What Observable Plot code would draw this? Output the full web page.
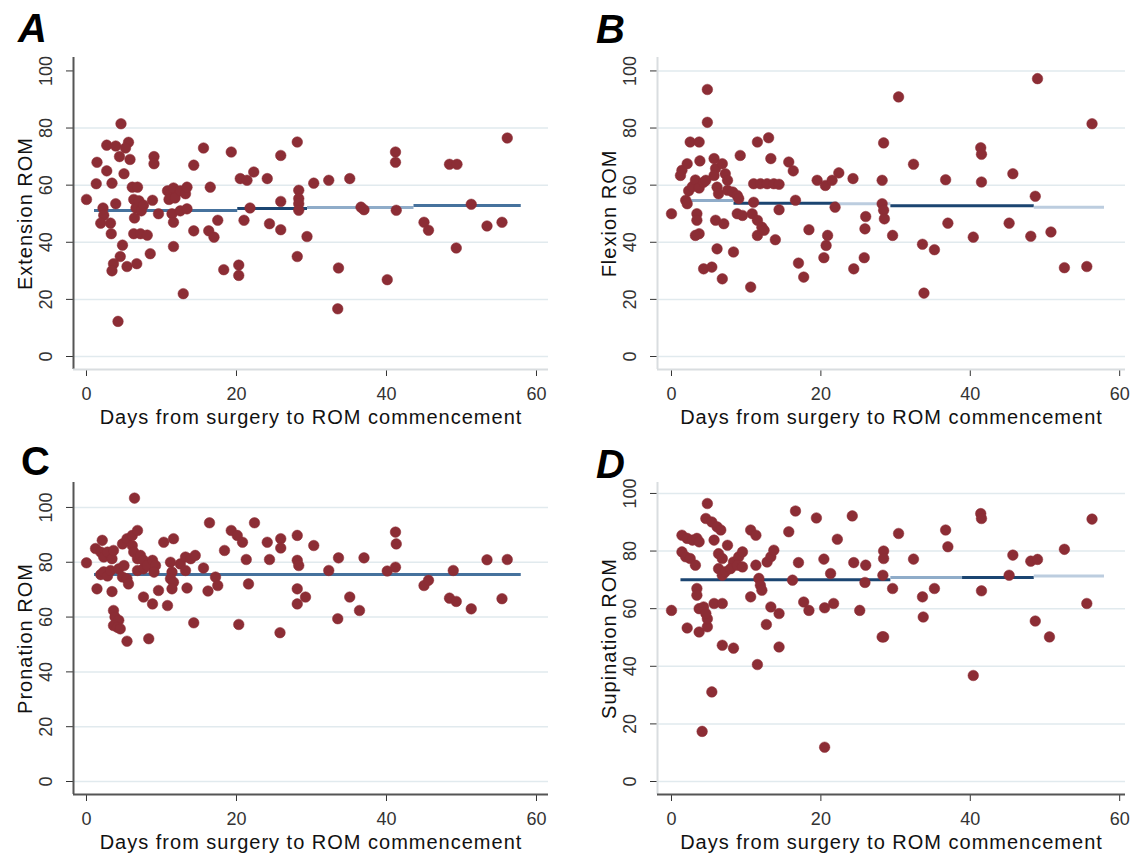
<!DOCTYPE html>
<html><head><meta charset="utf-8">
<script src="https://cdn.jsdelivr.net/npm/d3@7"></script>
<script src="https://cdn.jsdelivr.net/npm/@observablehq/plot@0.6"></script>
<style>
body{margin:0;background:#fff;width:1131px;height:854px;position:relative;overflow:hidden;font-family:"Liberation Sans",Arial,sans-serif;}
.panel{position:absolute;}
.letter{position:absolute;font-weight:bold;font-size:40px;line-height:1;color:#000;font-family:"Liberation Sans",Arial,sans-serif;}
g[aria-label$="axis label"] text{font-size:20px;letter-spacing:1px;fill:#111;}
</style></head><body>
<script>
// ---- data ----
const xLabel = "Days from surgery to ROM commencement";
const xTicks = [0, 20, 40, 60];
const yTicks = [0, 20, 40, 60, 80, 100];
const panelLetters = ["A", "B", "C", "D"];
const yLabels = ["Extension ROM", "Flexion ROM", "Pronation ROM", "Supination ROM"];

// [days, ROM]
const extensionPoints = [[0,55],[1.4,68],[1.3,60.5],[2.7,65],[2.7,74],[2.2,52],[2.3,49.5],[1.9,46.7],[3.2,46.7],[3.3,43],
[3.4,60.7],[3.9,73.7],[3.9,53.5],[4.6,81.5],[4.2,12.3],[4.4,70],[5,64],[5.6,75],[5.2,73],[5.8,69],
[4.8,39],[4.5,35],[3.6,32.5],[3.4,30],[5.4,31.5],[6.7,32.5],[6.1,59.3],[6.8,59.3],[6.3,55],[6.6,52],
[7.0,54.5],[7.3,51],[6.4,48.5],[7.6,53],[6.3,43],[7.2,43],[8.1,42.5],[8.5,36],[9,70],[9,67.5],
[8.8,54.7],[9.6,50],[10.8,58],[11.2,57],[11.6,59],[11,55],[11.8,55.5],[11.4,50],[11.6,47],[11.6,38.5],
[12.5,58],[13.2,57],[13.4,59.3],[12.9,22],[12.5,51],[13.4,51.7],[14.3,67],[14.3,44],[15.6,73],[16.5,59.3],
[16.3,44],[17,41.8],[17.5,47.7],[18.3,30.4],[19.3,71.6],[20.3,32],[20.3,28.4],[20.5,62.3],[21.4,61.7],[21,47.7],
[21.8,52],[22.3,64.6],[24.1,62.3],[24.4,46.5],[25.9,70.4],[25.9,54.3],[25.9,44.4],[28.1,75.1],[28.1,35],[28.3,58.2],
[28.3,55.3],[28.3,53.5],[28.3,51.2],[29.4,42],[30.3,60.7],[32.3,61.7],[33.6,31],[33.5,16.7],[35.1,62.3],[36.6,52.3],
[37,51.4],[40.1,26.9],[41.2,71.6],[41.2,68],[41.3,51.2],[45,47],[45.6,44.2],[48.4,67.3],[49.4,67.3],[49.3,38],
[51.3,53.3],[53.4,45.7],[55.4,47],[56.1,76.5]];

const flexionPoints = [[0,50],[1.4,65.2],[1.2,63.4],[2.1,67.5],[1.9,54.7],[2.1,53.5],[2.5,75.1],[3.7,75.1],[3.8,68.5],[2.3,58],
[2.8,59.5],[3.2,61.8],[3.7,59],[4.3,61],[3.4,50],[3.4,47.7],[3.7,43],[3.2,42.4],[4.6,61.7],[4.8,93.5],
[4.8,82],[4.3,30.7],[5.4,31.3],[5.7,69.3],[5.9,65.8],[5.7,63.4],[6.1,59.3],[6.3,57],[5.9,47.7],[7,46.5],
[6.1,37.7],[6.8,27.2],[6.8,67.5],[7.2,64],[7.5,61.7],[7.5,58.2],[8.2,57.6],[8.8,56.4],[9,55.3],[9.2,70.4],
[8.8,50],[9.5,49.4],[8.3,36.6],[10.6,24.3],[11,54],[10.8,50],[11.5,47.7],[12.1,45.3],[11.5,42.4],[12.4,44.2],
[11,60.5],[11.9,60.5],[12.8,60.5],[13.7,60.5],[14.4,60.3],[11.5,75.1],[13,76.6],[13.3,69.3],[13.9,40.9],[14.4,51.4],
[15.7,68.1],[16.3,65],[16.6,54.7],[17,32.7],[17.7,27.8],[18.4,44.4],[19.5,61.7],[20.6,59.9],[21.5,61.7],[22.4,64.3],
[21.9,52.3],[20.9,42.4],[20.7,38.9],[20.4,34.6],[24.3,62.3],[24.4,30.7],[30.4,90.9],[28.4,74.8],[28.2,61.7],[28.2,53.5],
[28.4,51.2],[28.5,48.2],[26,49],[25.9,44.7],[25.8,34.6],[29.6,42.4],[32.4,67.3],[33.6,39.3],[35.2,37.4],[33.8,22.2],
[36.7,61.9],[37,46.7],[40.4,41.8],[41.4,73.1],[41.5,70.8],[41.5,61.1],[45.2,46.7],[45.7,64],[48.1,42.1],[48.7,56.1],
[49,97.3],[50.8,43.6],[52.6,31.1],[55.6,31.5],[56.3,81.5]];

const pronationPoints = [[0,79.8],[1.4,70.3],[1.2,85],[1.9,83.7],[2.3,81.9],[2.1,88],[2.8,83.7],[3.4,81.3],[3.6,84.3],[1.9,75.5],
[2.3,76.5],[2.8,75],[3.2,77],[3.4,69.3],[3.6,62.4],[3.8,60],[4.3,58.8],[3.6,56.9],[4.1,56.3],[4.5,55.7],
[5.4,51.2],[4.3,77.6],[5,78.8],[4.8,74.6],[5.4,74],[5.6,72.1],[4.8,86.7],[5.4,88.6],[6.1,89.8],[6.8,91.6],
[6.1,86.1],[6.4,103.4],[6.3,83.7],[6.8,81.3],[7.2,82.5],[7.6,80.7],[6.8,77],[7.6,77.6],[8.1,78.8],[8.8,80.7],
[9.2,78.8],[9,76.4],[7.6,67.3],[8.8,64.8],[8.3,52.1],[9.6,69.7],[10.8,64.2],[10.3,87.3],[11.6,88.6],[11.2,80],
[11.4,76.4],[11.2,74],[11.6,72.7],[11.4,70.3],[12.5,79.4],[13.2,77],[13.2,81.9],[13.9,81.3],[14.5,82.5],[13.4,70.6],
[14.3,57.9],[15.6,77.9],[16.2,69.5],[16.4,94.4],[17.2,74.6],[17.5,71.5],[18.4,84.3],[19.3,91.6],[20.1,89.8],[20.8,87.3],
[21.3,81],[21.6,72.1],[20.3,57.3],[22.4,94.4],[24.1,87.3],[24.4,81],[25.9,88.6],[25.9,85.2],[25.8,54.3],[28.1,89.8],
[28.1,80.7],[28.1,70.3],[28.1,64.8],[28.3,78.8],[29.2,67.3],[30.3,86.1],[32.3,77],[33.6,81.6],[33.5,59.4],[35.1,67.3],
[36.4,62.4],[37,81.6],[40.1,76.8],[41.2,91],[41.3,86.7],[41.2,78.2],[45,71.5],[45.6,73.4],[48.4,66.9],[49.3,65.7],
[48.9,77],[51.3,63],[53.4,80.9],[55.4,66.7],[56.1,81]];

const supinationPoints = [[0,59.4],[1.4,85.5],[2.1,84.4],[2.8,83.8],[3.4,84.4],[1.4,79.7],[1.9,78],[2.5,77.4],[3.2,75.1],[3.7,83.2],
[2.1,53.3],[3.4,67],[3.4,64.7],[3.7,60],[4.3,60.6],[3.7,51.9],[4.8,53.7],[4.8,56.5],[4.6,58.3],[4.1,17.4],
[4.8,96.5],[4.6,91.3],[5.4,90.1],[6.1,88.4],[6.6,87.3],[5.7,83.8],[5.4,31.1],[5.7,61.8],[6.8,61.8],[6.8,47.3],
[6.3,79.1],[6.8,77.4],[7.5,82],[6.3,73.9],[6.8,71.6],[7.2,72.8],[8.3,46.3],[8.3,76.2],[9,78],[9.5,79.7],
[7.9,73.9],[8.8,75.1],[9.5,74.5],[10.6,87.3],[11.3,85.5],[11.3,75.1],[11.5,40.6],[11.7,70.5],[11.9,68.1],[12.1,66.4],
[10.6,64.1],[12.7,54.5],[12.8,76.2],[13.3,78],[13.7,80.3],[13.3,60.6],[14.4,58.3],[14.4,46.7],[15.7,86.7],[16.2,69.9],
[16.6,93.9],[17,76],[17.7,62.3],[18.4,59.4],[19.4,91.5],[20.4,77.2],[21.3,72.2],[20.5,60.3],[21.7,61.8],[20.5,11.9],
[22.2,84.1],[24.2,92.2],[24.4,76],[25.2,59.4],[26,75.1],[25.9,69.1],[30.4,86.1],[28.4,80],[28.4,77.4],[28.3,71.6],
[29.6,67],[28.2,50.2],[28.4,50.2],[32.4,77.2],[33.6,64.1],[33.7,57.1],[35.2,67],[36.7,87.3],[37,81.5],[40.4,36.8],
[41.4,93],[41.5,91.3],[41.5,66.2],[45.2,71.6],[45.7,78.6],[48.1,76.5],[49,77.1],[48.7,55.7],[50.6,50.2],[52.6,80.6],
[55.6,61.8],[56.3,91.1]];

// fitted line pieces: [fromDay, toDay, ROM, tone]
const toneNames = ["dark", "mid", "light", "pale"];
const extensionFit = [[1,20.1,51.1,"mid"],[20.1,29.4,51.8,"dark"],[29.4,43.6,52.2,"light"],[43.6,57.9,52.9,"mid"]];
const flexionFit = [[1.4,8.3,54.6,"light"],[8.3,22.2,53.7,"dark"],[22.2,29.3,53.5,"pale"],[29.3,48.5,52.8,"dark"],[48.5,57.9,52.3,"pale"]];
const pronationFit = [[1,57.9,75.5,"mid"]];
const supinationFit = [[1.2,29.3,70.0,"dark"],[29.3,38.9,70.8,"light"],[38.9,48.5,70.8,"dark"],[48.5,57.9,71.3,"pale"]];

// ---- layout ----
const panels = [
  {letter: panelLetters[0], yLabel: yLabels[0], points: extensionPoints, fit: extensionFit,
   left: 0, top: 0, width: 565, mr: 17, mt: 57, mb: 58, xd: [-1.733, 61.6], yd: [-4.55, 104.7],
   grid: [0,20,40,60,80], yAxisColor: "#555", xAxisColor: "#d9dde0", italic: true, lx: 18, ly: 8},
  {letter: panelLetters[1], yLabel: yLabels[1], points: flexionPoints, fit: flexionFit,
   left: 584, top: 0, width: 547, mr: 6, mt: 57, mb: 58, xd: [-1.874, 60.78], yd: [-4.55, 104.7],
   grid: [0,20,40,60,80,100], yAxisColor: "#d9dde0", xAxisColor: "#d9dde0", italic: true, lx: 596, ly: 9},
  {letter: panelLetters[2], yLabel: yLabels[2], points: pronationPoints, fit: pronationFit,
   left: 0, top: 427, width: 565, mr: 17, mt: 55, mb: 60, xd: [-1.733, 61.6], yd: [-4.74, 109.1],
   grid: [0,20,40,60,80,100], yAxisColor: "#555", xAxisColor: "#555", italic: false, lx: 21, ly: 441},
  {letter: panelLetters[3], yLabel: yLabels[3], points: supinationPoints, fit: supinationFit,
   left: 584, top: 427, width: 547, mr: 6, mt: 55, mb: 60, xd: [-1.874, 60.78], yd: [-4.51, 103.8],
   grid: [0,20,40,60,80,100], yAxisColor: "#d9dde0", xAxisColor: "#555", italic: true, lx: 596, ly: 444}
];

for (const p of panels) {
  const pts = p.points.map(([d, v]) => ({d, v}));
  const segs = p.fit.map(([x1, x2, y, tone]) => ({x1, x2, y, tone}));
  const chart = Plot.plot({
    width: p.width, height: 427,
    marginLeft: 73, marginRight: p.mr, marginTop: p.mt, marginBottom: p.mb,
    style: {fontFamily: '"Liberation Sans", Arial, sans-serif', fontSize: "18px", color: "#333", background: "transparent", overflow: "visible"},
    x: {domain: p.xd, ticks: xTicks, tickSize: 7, tickPadding: 11, tickFormat: d => String(d),
        label: xLabel, labelAnchor: "center", labelArrow: "none", labelOffset: 54},
    y: {domain: p.yd, ticks: yTicks, tickSize: 7, tickPadding: 15, tickRotate: -90, tickFormat: d => String(d),
        label: p.yLabel, labelAnchor: "center", labelArrow: "none", labelOffset: 56},
    color: {domain: toneNames, range: ["#1b4571", "#46729d", "#8facc9", "#bccddf"]},
    marks: [
      Plot.ruleY(p.grid, {stroke: "#e1eaee", strokeWidth: 1.5}),
      Plot.ruleX([p.xd[0]], {stroke: p.yAxisColor, strokeWidth: 2}),
      Plot.ruleY([p.yd[0]], {stroke: p.xAxisColor, strokeWidth: 2}),
      Plot.link(segs, {x1: "x1", x2: "x2", y1: "y", y2: "y", stroke: "tone", strokeWidth: 3}),
      Plot.dot(pts, {x: "d", y: "v", r: 5.3, fill: "#8c2d35", stroke: "#8c2d35", strokeWidth: 0.5})
    ]
  });
  const wrap = document.createElement("div");
  wrap.className = "panel";
  wrap.style.left = p.left + "px";
  wrap.style.top = p.top + "px";
  wrap.appendChild(chart);
  document.body.appendChild(wrap);

  const lab = document.createElement("div");
  lab.className = "letter";
  lab.textContent = p.letter;
  lab.style.left = p.lx + "px";
  lab.style.top = p.ly + "px";
  lab.style.fontStyle = p.italic ? "italic" : "normal";
  document.body.appendChild(lab);
}
</script>
</body></html>
